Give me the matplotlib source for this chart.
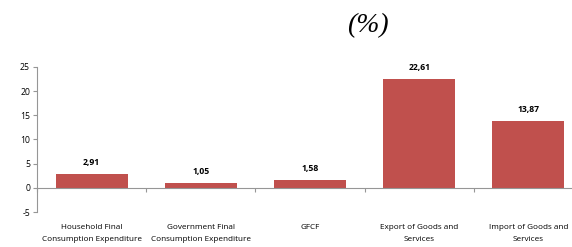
import numpy as np
import matplotlib.pyplot as plt
import matplotlib.transforms as mtransforms

categories = ['Household Final\nConsumption Expenditure',
              'Government Final\nConsumption Expenditure',
              'GFCF',
              'Export of Goods and\nServices',
              'Import of Goods and\nServices']
values = [2.91, 1.05, 1.58, 22.61, 13.87]
value_labels = ['2,91', '1,05', '1,58', '22,61', '13,87']
yticks = [-5, 0, 5, 10, 15, 20, 25]

plt.rcParams['font.family'] = ['Open Sans', 'DejaVu Sans']

fig = plt.figure(figsize=(5.72, 2.47), dpi=100)
ax = fig.add_axes([37/572, 35/247, 546/572, 145/247])

x = np.arange(len(categories))
ax.bar(x, values, width=0.66, color='#C0504D', zorder=2)

for xi, v, lab in zip(x, values, value_labels):
    ax.annotate(lab, (xi, v), xytext=(0, 5), textcoords='offset points',
                ha='center', va='bottom', fontsize=6.2, fontweight='bold')

ax.set_xlim(-0.5, len(categories) - 0.5)
ax.set_ylim(-5, 25)
ax.set_yticks(yticks)
ax.set_yticklabels([str(t) for t in yticks], fontsize=6.2)

for s in ['top', 'right']:
    ax.spines[s].set_visible(False)
ax.spines['bottom'].set_position(('data', 0))
ax.spines['bottom'].set_color('#969696')
ax.spines['left'].set_color('#969696')
ax.tick_params(axis='y', length=3, color='#969696', pad=2)
ax.set_xticks(np.arange(len(categories) + 1) - 0.5)
ax.set_xticklabels([])
ax.tick_params(axis='x', length=3, color='#969696', direction='out')

trans = mtransforms.blended_transform_factory(ax.transData, ax.transAxes)
for xi, c in zip(x, categories):
    ax.text(xi, -0.085, c, transform=trans, ha='center', va='top',
            fontsize=5.9, linespacing=1.9)

fig.text(368/572, 1 - 26/247, '(%)', ha='center', va='center',
         fontsize=20, style='italic', family='Liberation Serif')

fig.savefig('out.png', dpi=100)
